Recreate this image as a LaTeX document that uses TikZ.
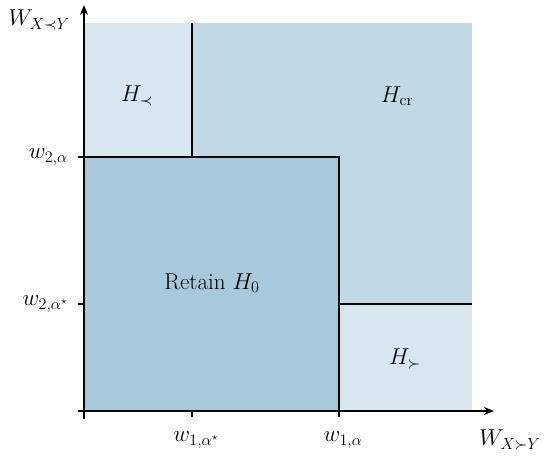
\documentclass[tikz,border=0pt]{standalone}
\usepackage{fix-cm}
\usetikzlibrary{arrows.meta}
\definecolor{cdark}{RGB}{167,201,219}
\definecolor{cmid}{RGB}{192,217,229}
\definecolor{clight}{RGB}{216,230,239}
\begin{document}
\begin{tikzpicture}[x=1pt,y=-1pt,
  axis/.style={line width=1.8pt,-{Stealth[length=10pt,width=8pt]}},
  edge/.style={line width=1.3pt},
  tick/.style={line width=1.3pt},
  lab/.style={font=\fontsize{23}{27}\selectfont, inner sep=0pt}]
\useasboundingbox (0,0) rectangle (546,458);
% regions
\fill[cmid] (84,23) rectangle (472,411);
\fill[clight] (84,23) rectangle (192,157);
\fill[clight] (339,304) rectangle (472,411);
\fill[cdark] (84,157) rectangle (339,411);
% coordinates
\coordinate (o) at (84,411);
\coordinate (xs) at (78,411);
\coordinate (xe) at (494,411);
\coordinate (ys) at (84,419);
\coordinate (ye) at (84,5);
\coordinate (a1) at (192,23);
\coordinate (a2) at (192,157);
\coordinate (b1) at (84,157);
\coordinate (b2) at (339,157);
\coordinate (b3) at (339,411);
\coordinate (c1) at (339,304);
\coordinate (c2) at (472,304);
% region borders
\draw[edge] (a1) -- (a2);
\draw[edge] (b1) -- (b2) -- (b3);
\draw[edge] (c1) -- (c2);
% ticks
\coordinate (tx1) at (192,417);
\coordinate (tx1b) at (192,411);
\coordinate (tx2) at (339,417);
\coordinate (ty1) at (78,157);
\coordinate (ty2) at (78,304);
\coordinate (ty2b) at (84,304);
\draw[tick] (tx1b) -- (tx1);
\draw[tick] (b3) -- (tx2);
\draw[tick] (ty1) -- (b1);
\draw[tick] (ty2) -- (ty2b);
% axes
\draw[axis] (xs) -- (xe);
\draw[axis] (ys) -- (ye);
% labels
\node[lab, anchor=east] (ly) at (70,20) {$W_{X\prec Y}$};
\node[lab] (lx) at (510,440) {$W_{X\succ Y}$};
\node[lab, anchor=east] (w2a) at (68,157) {$w_{2,\alpha}$};
\node[lab, anchor=east] (w2s) at (68,304) {$w_{2,\alpha^\star}$};
\node[lab] (w1s) at (196,440) {$w_{1,\alpha^\star}$};
\node[lab] (w1a) at (343,440) {$w_{1,\alpha}$};
\node[lab] (hp) at (137,96) {$H_{\prec}$};
\node[lab] (hcr) at (397,96) {$H_{\mathrm{cr}}$};
\node[lab] (h0) at (212,283) {Retain $H_0$};
\node[lab] (hs) at (405,359) {$H_{\succ}$};
\end{tikzpicture}
\end{document}
